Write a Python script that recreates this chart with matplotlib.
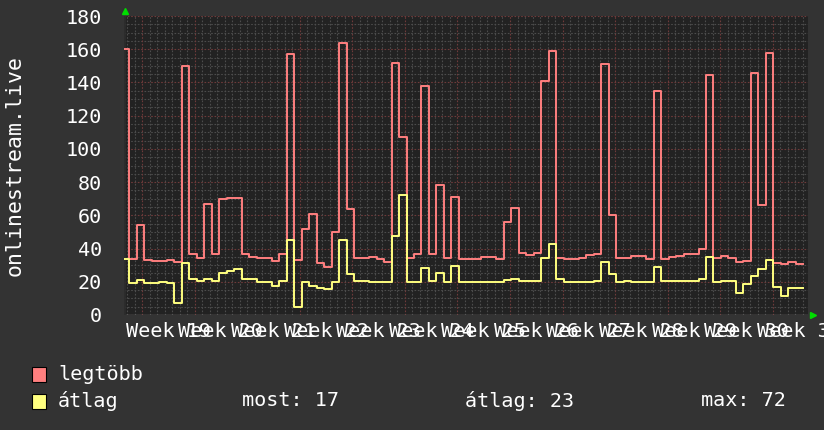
import matplotlib
matplotlib.use('Agg')
import matplotlib.pyplot as plt
import numpy as np

plt.rcParams['font.family'] = ['DejaVu Sans Mono', 'DejaVu Sans']

# napi értékek (91 nap, az első csak részleges)
legtobb = [160, 34, 54, 33, 32.5, 32.5, 33.3, 32.1, 150, 37, 34.5, 67, 36.7, 69.6, 70.6, 70.6,
           36.7, 35, 34.3, 34.5, 32.7, 36.5, 157, 33, 52, 60.6, 31.5, 29, 50, 164,
           63.6, 34.5, 34.5, 35, 34, 32, 152, 107, 34.5, 37, 138, 36.5, 78, 34.5, 71,
           33.5, 34, 34, 34.7, 34.7, 33.5, 56, 64.6, 37.5, 36, 37.5, 141, 159, 34.5, 33.7,
           33.7, 34.5, 36, 36.5, 151, 60, 34.5, 34.5, 35.5, 35.5, 34, 135, 33.7, 35,
           35.7, 37, 37, 39.7, 144.5, 34.5, 35.7, 34.5, 32, 32.7, 145.5, 66, 158, 31.5,
           31, 32, 30.5]
atlag = [34, 19, 21, 19, 19, 19.7, 19, 7, 31.5, 21.7, 20.7, 21.7, 20.7, 25, 26.7, 27.7,
         21.5, 21.5, 20, 19.7, 17.7, 20.7, 45, 5, 20, 17.7, 16.4, 15.7, 20, 45,
         24.5, 20.7, 20.7, 20, 20, 20, 47.5, 72, 20, 20, 28.5, 20.7, 25, 20, 29.7,
         20, 20, 20, 20, 20, 20, 21, 21.7, 20.7, 20.7, 20.7, 34.5, 42.7, 21.7, 20,
         20, 20, 20, 20.7, 32, 24.5, 20, 20.7, 20, 20, 20, 29, 20.7, 20.7,
         20.7, 20.7, 20.7, 21.5, 35, 20, 20.7, 20.7, 13, 18.5, 23.7, 27.7, 33, 17,
         11.4, 16.4, 16.4]
weeks = list(range(19, 32))
stats = ["most: 17", "átlag: 23", "max: 72"]

# időtengely napokban
first_step = 0.73
step = 0.997
week_start = 2.4
span = 91.08

edges = np.concatenate([[0], first_step + step * np.arange(len(legtobb))])

bg = '#333333'
fig = plt.figure(figsize=(8.24, 4.30), dpi=100, facecolor=bg)
ax = fig.add_axes([124 / 824, 115 / 430, 684 / 824, 299 / 430])
ax.set_facecolor('#222222')

# rács
for y in np.arange(0, 181, 5):
    major = y % 20 == 0
    ax.axhline(y, color='#6e3a3a' if major else '#4c4c4c', lw=0.8,
               ls=(0, (1.5, 1.5)), zorder=1)
for d in np.arange(week_start - 2, span, 1.0):
    major = abs((d - week_start) % 7) < 1e-6
    ax.axvline(d, color='#6e3a3a' if major else '#4c4c4c', lw=0.8,
               ls=(0, (1.5, 1.5)), zorder=1)

ax.step(edges, np.append(legtobb, legtobb[-1]), where='post', color='#ff7f7f', lw=1.4, zorder=3)
ax.step(edges, np.append(atlag, atlag[-1]), where='post', color='#ffff7f', lw=1.4, zorder=3)

ax.set_xlim(0, span)
ax.set_ylim(0, 180)
for s in ax.spines.values():
    s.set_visible(False)
ax.axhline(0, color='#777777', lw=1, zorder=2)
ax.axvline(0, color='#2c2c2c', lw=2, zorder=2)

ax.set_yticks(np.arange(0, 181, 20))
ax.tick_params(axis='y', length=0, pad=16, labelsize=14.5, labelcolor='white')
ax.set_xticks([])
for i, w in enumerate(weeks):
    ax.text(week_start + 3.5 + 7 * i, -4, f"Week {w}", ha='center', va='top',
            fontsize=14.5, color='white', clip_on=False)

fig.text(15 / 824, 1 - 165 / 430, "onlinestream.live", rotation=90, ha='center',
         va='center', fontsize=15.5, color='white')

# zöld nyilak
fig.add_artist(plt.Line2D([125 / 824], [1 - 11 / 430], marker='^', color='#00dd00',
                          markersize=5, transform=fig.transFigure))
fig.add_artist(plt.Line2D([813 / 824], [1 - 315 / 430], marker='>', color='#00dd00',
                          markersize=5, transform=fig.transFigure))

# jelmagyarázat
for yc, col, name in [(374, '#ff7f7f', 'legtöbb'), (401, '#ffff7f', 'átlag')]:
    fig.add_artist(plt.Rectangle((32 / 824, 1 - (yc + 7.5) / 430), 14 / 824, 15 / 430,
                                 facecolor=col, edgecolor='black', lw=0.8,
                                 transform=fig.transFigure))
    fig.text(58 / 824, 1 - yc / 430, name, ha='left', va='center', fontsize=14.5, color='white')
for xs, s in zip([242, 465, 701], stats):
    fig.text(xs / 824, 1 - 401 / 430, s, ha='left', va='center', fontsize=14.5, color='white')

fig.savefig('out.png', dpi=100, facecolor=bg)
